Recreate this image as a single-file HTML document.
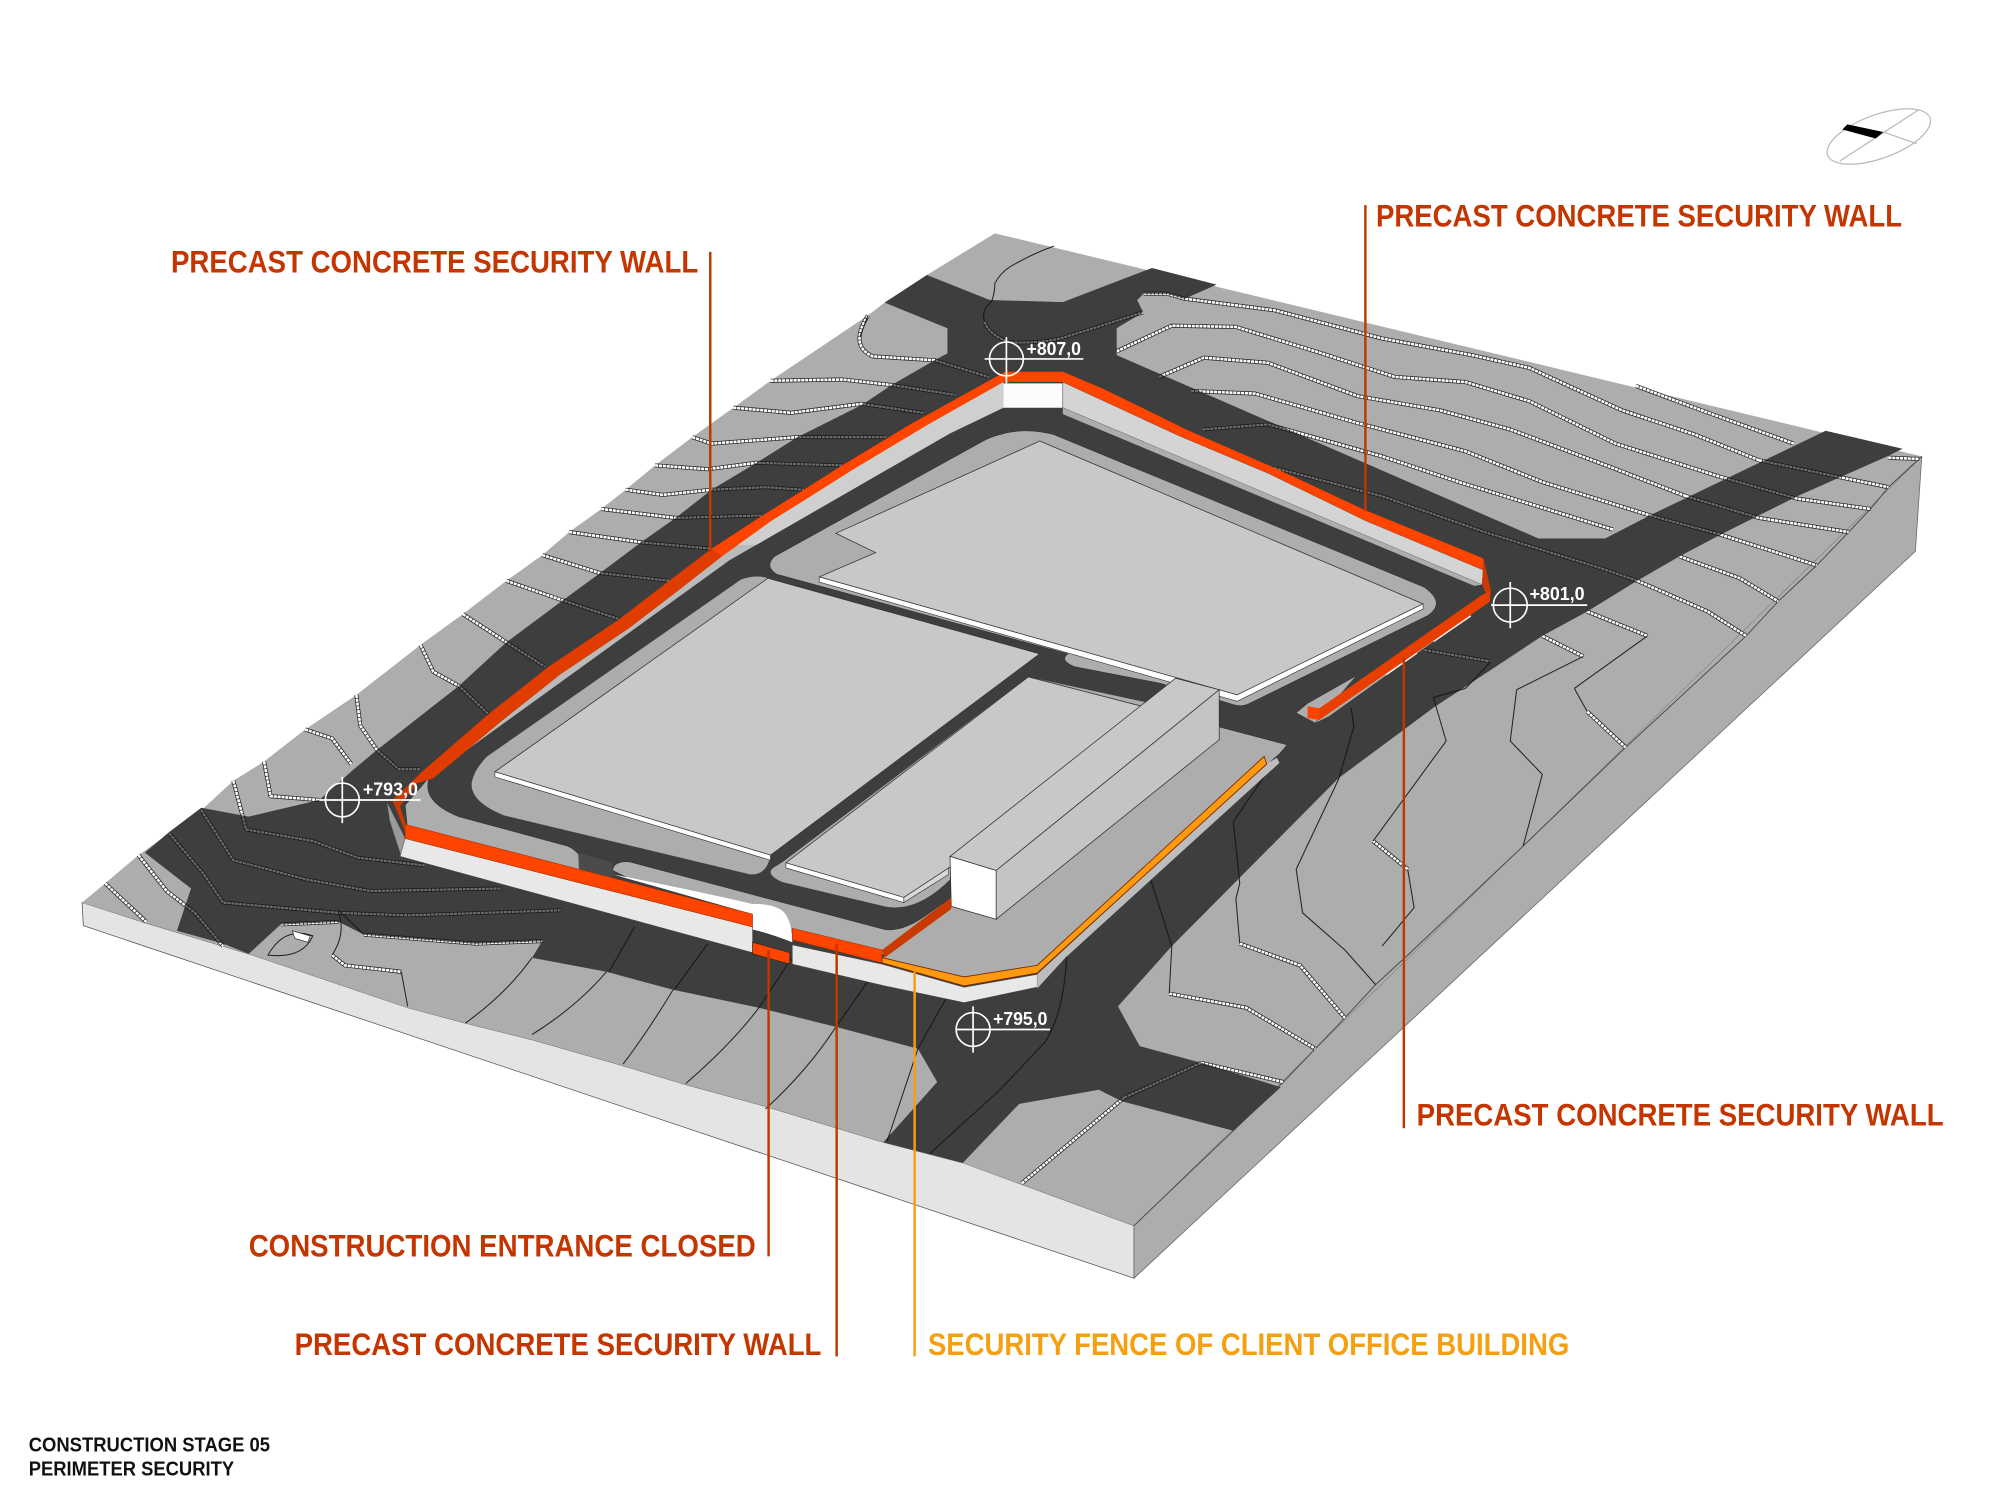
<!DOCTYPE html>
<html><head><meta charset="utf-8"><style>
html,body{margin:0;padding:0;background:#fff}
svg{display:block}
text{font-family:"Liberation Sans",sans-serif;font-weight:bold}
</style></head><body>
<svg xmlns="http://www.w3.org/2000/svg" width="2000" height="1500" viewBox="0 0 1560 1170">
<defs>
<path id="d" d="M723,214.5 L772,234 L829,235.7 L898.6,209 L949,222 L924,233 L910,229 L892,229 L887,234 L891.6,243.6 L871,256 L871,277 L1200,420 L1252,420 L1287,402 L1424,336 L1484,350 L1472,356 L1402,387 L1342,417 L1310,434 L1277,453 L1238,477 L1203,496 L1153,529 L1118,552 L1044,607 L914,738 L872,785 L889,816 L937,829 L999,848 L962,882 L875,859 L857,850 L795,861 L751,907 L689,891 L731,844 L716,818 L652,801 L592,786 L525,772 L473,758 L415,747 L423,734 L371,736 L284,729 L264,719 L219,721 L194,744 L174,736 L138,726 L149,693 L113,665 L132,649 L157,630 L194,637 L249,624 L276,600 L294,585 L358,535 L395,501 L438,469 L468,447 L500,423 L527,404 L555,382 L590,361 L622,341 L672,316 L696,300 L729,281 L739,275.6 L739,256 L690,236 Z"/>
<clipPath id="dc"><use href="#d"/></clipPath>
<g id="c" fill="none">
<path d="M677,246 Q662,270 681,278 L729,281 L771,294"/>
<path d="M601,297 L657,296 L697,300.5 L745,308"/>
<path d="M572,318 L617,322 L672,315 L720,322"/>
<path d="M540,341 L555,346 L622,341 L691,341"/>
<path d="M511,363 L552,366 L590,361 L657,363"/>
<path d="M488,382 L517,386 L555,382 L597,380 L627,382"/>
<path d="M469,397 L527,404 L595,402"/>
<path d="M444,415 L500,423 L555,428"/>
<path d="M423,433 L468,447 L522,453"/>
<path d="M395,453 L438,468 L483,483"/>
<path d="M361,479 L395,501 L425,520"/>
<path d="M328,503 L338,524 L358,535 L381,557"/>
<path d="M278,542 L281,566 L294,585 L311,600 L328,600"/>
<path d="M238,569 L259,576 L274,596"/>
<path d="M206,594 L211,621 L249,624"/>
<path d="M182,609 L192,647 L244,656 L279,669 L331,675"/>
<path d="M157,632 L182,671 L239,686 L289,695 L391,693"/>
<path d="M132,650 L159,682 L174,704 L264,712 L318,714 L438,710"/>
<path d="M108,667 L130,695 L152,712 L174,738"/>
<path d="M82,689 L114,719"/>
<path d="M219,721 L264,719"/>
<path d="M284,729 L371,736 L423,734"/>
<path d="M259,745 L269,753 L313,758"/>
<path d="M768,251 Q772,262 788,267 Q810,268 827,264 L853,256 L891.7,243.5 M892,229 L910,229 L924,233 L994,242 L1078,264 L1148,277 L1193,287 L1265,320 L1322,339 L1372,359"/>
<path d="M871,274 L914,254 L964,255 L1029,275 L1088,294 L1143,298 L1193,313 L1260,346 L1342,372"/>
<path d="M904,294 L939,279 L989,283 L1059,309 L1123,320 L1178,335 L1258,365 L1315,387"/>
<path d="M929,305 L979,307 L1059,330 L1143,352 L1203,376 L1287,402"/>
<path d="M938,335 L989,331 L1078,356 L1138,376 L1258,413"/>
<path d="M994,365 L1078,387 L1158,415 L1248,443 L1277,453"/>
<path d="M1276,301 L1327,320 L1399,346"/>
<path d="M1473,357 L1497,358"/>
<path d="M1372,359 L1434,372 L1473,380"/>
<path d="M1342,372 L1402,389 L1459,397"/>
<path d="M1315,387 L1372,404 L1442,415"/>
<path d="M1287,402 L1342,417 L1389,432 L1417,441"/>
<path d="M1310,434 L1357,451 L1387,469"/>
<path d="M1277,453 L1332,477 L1362,496"/>
<path d="M1238,477 L1285,496"/>
<path d="M1203,496 L1235,512"/>
<path d="M1111,507 L1163,516"/>
<path d="M1238,555 L1268,583"/>
<path d="M1098,678 L1071,656"/>
<path d="M967,736 L1014,753 L1049,794"/>
<path d="M912,775 L972,786 L1026,818"/>
<path d="M937,829 L1001,844"/>
<path d="M877,856 L937,829"/>
<path d="M797,923 L877,856"/>
</g>
<g id="t" fill="none">
<path d="M495,723 L475,758 M552,736 L526,772 M617,748 L592,786 M678,764 L652,801 M740,775 L716,818"/>
<path d="M415,747 Q395,775 363,798 M473,758 Q450,785 415,807 M525,772 Q505,805 486,830 M592,786 Q570,815 535,845 M652,801 Q630,835 597,865 M716,818 L692,890"/>
<path d="M264,710 L284,729 M259,745 Q270,728 264,712 M313,758 L318,785"/>
<path d="M1228,537 L1238,555 M1228,537 L1285,496 M1183,538 L1178,578 L1203,604 L1188,660 M1183,538 L1235,512"/>
<path d="M1163,516 L1143,537 L1118,544 L1128,578 L1071,656 M1098,678 L1103,708 L1078,738"/>
<path d="M1054,552 L1056,567 L1044,608 L1011,678 L1016,712 L1049,741 L1073,768"/>
<path d="M996,591 L962,641 L967,689 L964,701 L967,736"/>
<path d="M895,678 L914,738 L912,775"/>
<path d="M832,745 Q830,790 815,813 L780,850 L725,900"/>
<path d="M768,251 Q765,242 773.5,235 Q776,228 776,221 Q780,213 788,208 Q805,198 822,192"/>
<path d="M677,246 L671,262"/>
</g>
</defs>

<!-- block -->
<polygon points="64,704 114,720 194,744 318,786 363,798 415,811 485,831 535,846 597,863 689,891 751,907 884.5,956 884.5,997 65,722" fill="#e4e4e4" stroke="#555" stroke-width=".6"/>
<polygon points="884.5,956 884.5,997 1494,430 1499,356" fill="#adadad" stroke="#666" stroke-width=".6"/>
<polygon points="64,704 82,689 108,667 132,650 157,632 182,609 206,594 238,569 278,542 328,503 361,479 395,453 423,433 444,415 469,397 488,382 511,363 540,341 572,318 601,297 677,246 690,236 723,214.5 776,182 1499,356 884.5,956 751,907 689,891 597,863 535,846 485,831 415,811 363,798 318,786 194,744 114,720" fill="#adadad"/>
<polyline points="884.5,956 962,882 1001,844 1026,818 1049,794 1073,768 1098,745 1188,660 1268,583 1362,496 1387,469 1417,441 1442,415 1459,397 1473,380 1499,356" fill="none" stroke="#444" stroke-width=".7"/>

<!-- terrain contours on grey -->
<use href="#c" stroke="#2a2a2a" stroke-width="3.2" stroke-linejoin="round"/>
<use href="#c" stroke="#fff" stroke-width="2" stroke-dasharray="2.4 .6"/>
<use href="#t" stroke="#222" stroke-width=".8" stroke-linejoin="round"/>

<!-- roads -->
<use href="#d" fill="#3e3e3e"/>
<g clip-path="url(#dc)">
<use href="#c" stroke="#1c1c1c" stroke-width="3" stroke-linejoin="round"/>
<use href="#c" stroke="#6c6c6c" stroke-width="1.7" stroke-dasharray="2.4 .6"/>
<use href="#t" stroke="#1a1a1a" stroke-width=".9"/>
</g>
<path d="M209,745 Q222,722 244,730 Q236,748 209,745 Z" fill="#adadad" stroke="#222" stroke-width=".8"/>
<path d="M228,726 L242,730 L240,735 L230,732 Z" fill="#fff" stroke="#222" stroke-width=".5"/>

<!-- strips beside walls -->
<polygon points="782.6,298 782.6,318 741,338 569,437 335,606 325,611 393,561 437,526 492,489 531,459 563,434 602,406 634,386 664,367 724,331" fill="#bababa"/>
<path d="M316,628 L335,606 Q328,625 358,637 L443,660 Q460,668 450,686 L318,648 Z" fill="#adadad" stroke="#333" stroke-width=".5"/>
<path d="M451,665 L478,673 L478,684 L452,687 Z" fill="#4b4b4b"/>
<path d="M478,679 Q478,672 490,672 L690,725 Q705,727 725,712 L742,700 L688,745 L618,728 Q614,712 600,708 L490,685 Z" fill="#adadad" stroke="#333" stroke-width=".5"/>
<path d="M478,682 Q520,690 587,705 Q605,705 612,712 Q618,720 618,735 Q600,728 587,725 L587,713 Z" fill="#fff"/>
<polygon points="587,725 616,736 616,744 587,735" fill="#3e3e3e"/>

<!-- pads -->
<path d="M780,339 Q800,333 822,339 L1111,458 Q1128,470 1114,480 L974,549 Q968,552 960,549 L905,533 L838,520 Q826,515 833,510 L606,448 Q596,442 604,434 L765,345 Q772,341 780,339 Z" fill="#adadad" stroke="#333" stroke-width=".5"/>
<polygon points="811,344 1110,471 965,542 639,450 683,431 652,416" fill="#c8c8c8" stroke="#333" stroke-width=".6"/>
<polygon points="639,450 965,542 1110,471 1110,475 965,547 639,454" fill="#fff" stroke="#333" stroke-width=".5"/>
<path d="M578,452 Q590,448 599,451 L811,510 L601,667 Q598,683 585,682 L393,636 Q366,625 368,610 Q370,600 380,590 Z" fill="#adadad"/>
<polygon points="599,451 811,510 601,667 386,602" fill="#c8c8c8" stroke="#333" stroke-width=".6"/>
<polygon points="386,602 601,667 601,671 386,606" fill="#fff" stroke="#333" stroke-width=".5"/>
<path d="M611,672 L802,528 L895,548 L741,672 L741,686 Q715,712 690,707 L610,688 Q597,682 603,677 Z" fill="#adadad"/>
<polygon points="802,528 895,552 740,677 705,700 613,673" fill="#c8c8c8" stroke="#333" stroke-width=".6"/>
<polygon points="613,673 705,700 705,704 613,677" fill="#fff" stroke="#333" stroke-width=".5"/>
<polygon points="705,700 740,677 740,682 705,704" fill="#d8d8d8" stroke="#333" stroke-width=".5"/>

<!-- office plateau -->
<polygon points="688,747 742,703 777,717 951,567 1004,581 998,588 809,753 752,762" fill="#adadad" stroke="#333" stroke-width=".5"/>
<polygon points="741,668 917,529 951,538 777,679" fill="#c8c8c8" stroke="#333" stroke-width=".6"/>
<polygon points="777,679 951,538 951,577 777,717" fill="#c4c4c4" stroke="#333" stroke-width=".6"/>
<polygon points="741,668 777,679 777,717 742,707" fill="#fff" stroke="#333" stroke-width=".6"/>

<!-- island at SE wall end -->
<polygon points="1011,556 1020,548.6 1058,527 1029,561 1026,564" fill="#adadad" stroke="#333" stroke-width=".4"/>
<polygon points="1026,564 1036.5,559 1147,480 1142,478 1029,560" fill="#adadad" stroke="#333" stroke-width=".4"/>
<path d="M1081,526 L1105,509 M1118,500 L1147,480" stroke="#eee" stroke-width="2" fill="none"/>

<!-- light faces -->
<polygon points="302,626 316,654 313,668 304,640" fill="#9a9a9a"/>
<polygon points="316,654 587,723 587,743 312,668" fill="#e8e8e8" stroke="#444" stroke-width=".4"/>
<polygon points="618,737 688,752 752,770 809,760 809,770 752,782 690,769 618,752" fill="#e8e8e8" stroke="#444" stroke-width=".4"/>
<polygon points="809,760 986,597 996,591 998,595 831,747 809,771" fill="#bdbdbd"/>
<polygon points="782.6,299 829,299 829,318 782.6,318" fill="#fbfbfb"/>
<polygon points="829,298 920,340 989,369 1065,406 1157,444.6 1156,456 829,318" fill="#d4d4d4" stroke="#333" stroke-width=".4"/>
<polygon points="829,318 1156,456 1150,457 829,323" fill="#adadad"/>
<polygon points="782.6,298 724,331 664,367 634,386 602,406 575,425 590,425 741,338 782.6,318" fill="#cfcfcf"/>

<!-- walls -->
<polygon points="784,290 829,290 860,303 926,335.4 992,364 1065,398 1157,435.5 1157,444.6 1065,406 989,369 920,340 829,298 782.6,298 724,331 664,367 634,386 602,406 563,434 555,428 595,402 627,382 657,363 710,331" fill="#ff4400"/>
<polygon points="555,428 563,434 531,459 492,489 437,526 393,561 338,607 325,611 320,611 328,603 381,557 428,520 483,483 522,453" fill="#e03c00"/>
<polygon points="1157,435 1163,461 1162,470 1156,456" fill="#c93a00"/>
<polygon points="306,624 320,611 325,611 312,629 316.8,643.6 317,651" fill="#c93a00"/>
<polygon points="316,643 587,713 587,723 316,654" fill="#ff4400" stroke="#a33000" stroke-width=".4"/>
<polygon points="618,724 688,741 688,751 618,733" fill="#ff4400" stroke="#a33000" stroke-width=".4"/>
<polygon points="587,735 616,743 616,752 587,744" fill="#ff4400" stroke="#222" stroke-width=".5"/>
<polygon points="1156,464 1162,461.5 1162,469.4 1029,561.6 1020,560 1020,551 1029,552.5" fill="#e83e00"/>
<polygon points="1029,552.5 1029,561.6 1020,560 1020,551" fill="#ff4400"/>
<polygon points="688,741 742,700 742,709 690,747" fill="#c93a00"/>
<polygon points="688,747 752,762 809,753 986,590 988,596 809,759 752,769 688,751" fill="#ff9a10" stroke="#7a2a00" stroke-width=".7"/>

<!-- leaders -->
<g fill="none" stroke-width="1.9">
<path d="M554,196.5 V431 M1065,160 V399 M1095,513 V880 M599.5,741 V980 M652.6,736 V1058" stroke="#c43500"/>
<path d="M713.4,758 V1058" stroke="#f5a010"/>
</g>

<!-- markers -->
<g fill="none" stroke="#fff" stroke-width="1.3">
<circle cx="785" cy="280" r="13.2"/><path d="M785,263 V299 M768,280 H845"/>
<circle cx="1178" cy="472" r="13.2"/><path d="M1178,454 V490 M1163,472 H1238"/>
<circle cx="267" cy="624" r="13.2"/><path d="M267,606 V642 M249,624 H328"/>
<circle cx="759" cy="803" r="13.2"/><path d="M759,785 V821 M746,803 H819"/>
</g>
<g fill="#fff" font-size="14.5">
<text x="800.7" y="277" textLength="42.4" lengthAdjust="spacingAndGlyphs">+807,0</text>
<text x="1193" y="468" textLength="43" lengthAdjust="spacingAndGlyphs">+801,0</text>
<text x="283" y="620.6" textLength="43" lengthAdjust="spacingAndGlyphs">+793,0</text>
<text x="774.6" y="799.5" textLength="42.4" lengthAdjust="spacingAndGlyphs">+795,0</text>
</g>

<!-- labels -->
<g font-size="24.5" fill="#c43500">
<text x="133.4" y="212.7" textLength="411.2" lengthAdjust="spacingAndGlyphs">PRECAST CONCRETE SECURITY WALL</text>
<text x="1073.3" y="176.5" textLength="410.3" lengthAdjust="spacingAndGlyphs">PRECAST CONCRETE SECURITY WALL</text>
<text x="1105" y="878" textLength="411" lengthAdjust="spacingAndGlyphs">PRECAST CONCRETE SECURITY WALL</text>
<text x="194" y="980" textLength="395.5" lengthAdjust="spacingAndGlyphs">CONSTRUCTION ENTRANCE CLOSED</text>
<text x="229.8" y="1057" textLength="410.9" lengthAdjust="spacingAndGlyphs">PRECAST CONCRETE SECURITY WALL</text>
</g>
<text x="723.8" y="1057" font-size="24.5" fill="#f5a010" textLength="500.2" lengthAdjust="spacingAndGlyphs">SECURITY FENCE OF CLIENT OFFICE BUILDING</text>
<g font-size="15.6" fill="#111">
<text x="22.4" y="1132" textLength="188.2" lengthAdjust="spacingAndGlyphs">CONSTRUCTION STAGE 05</text>
<text x="22.4" y="1151" textLength="160.2" lengthAdjust="spacingAndGlyphs">PERIMETER SECURITY</text>
</g>

<!-- compass -->
<g fill="none" stroke="#bbb" stroke-width="1">
<ellipse cx="1465.5" cy="106.5" rx="42.5" ry="17" transform="rotate(-20 1465.5 106.5)"/>
<path d="M1496,86 L1435,125.6 M1469,103 L1495,112"/>
</g>
<polygon points="1441,97 1437,101 1463,108 1469,103" fill="#000"/>
</svg>
</body></html>
